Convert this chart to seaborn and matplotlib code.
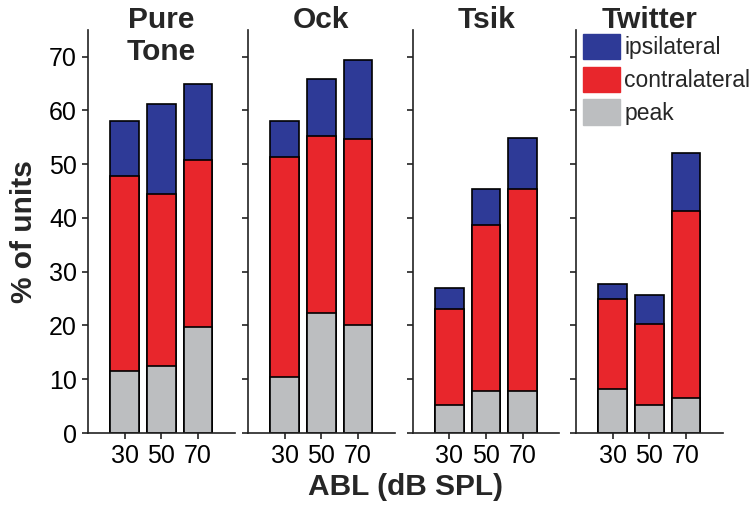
import pandas as pd
import matplotlib.pyplot as plt
import seaborn as sns
from matplotlib.patches import Patch

# === Data (cumulative tops of stacked segments, % of units) ===
panels = ["Pure\nTone", "Ock", "Tsik", "Twitter"]
abl = ["30", "50", "70"]
peak = [[11.5, 12.4, 19.7], [10.4, 22.3, 20.0], [5.3, 7.9, 7.9], [8.1, 5.3, 6.5]]
contra_top = [[47.8, 44.5, 50.7], [51.4, 55.3, 54.7], [23.0, 38.6, 45.4], [25.0, 20.2, 41.3]]
ipsi_top = [[58.0, 61.1, 64.9], [58.0, 65.8, 69.4], [27.0, 45.4, 54.8], [27.8, 25.7, 52.0]]

rows = []
for i, name in enumerate(panels):
    for j, a in enumerate(abl):
        rows.append({"panel": name, "ABL": a, "peak": peak[i][j],
                     "contra": contra_top[i][j], "ipsi": ipsi_top[i][j]})
df = pd.DataFrame(rows)

sns.set_style("white")
plt.rcParams["font.family"] = ["Liberation Sans", "DejaVu Sans"]

c_ipsi = "#2E3A97"
c_contra = "#E8262C"
c_peak = "#BCBEC0"

fig = plt.figure(figsize=(7.56, 5.08), dpi=100)
lefts = [0.1164, 0.328, 0.546, 0.762]
axes = []
for k, name in enumerate(panels):
    ax = fig.add_axes([lefts[k], 0.1476, 0.194, 0.794])
    sub = df[df["panel"] == name]
    # draw tallest first so the lower segments sit on top
    for col, c in [("ipsi", c_ipsi), ("contra", c_contra), ("peak", c_peak)]:
        sns.barplot(data=sub, x="ABL", y=col, color=c, edgecolor="black",
                    linewidth=1.2, width=0.78, saturation=1, ax=ax, order=abl)
    ax.set_xlim(-1, 3)
    ax.set_ylim(0, 75)
    ax.set_yticks(range(0, 71, 10))
    ax.set_xlabel("")
    ax.set_ylabel("")
    for s in ["top", "right"]:
        ax.spines[s].set_visible(False)
    for s in ["left", "bottom"]:
        ax.spines[s].set_linewidth(1.2)
        ax.spines[s].set_color("#222222")
    ax.tick_params(direction="out", length=4, width=1.2, labelsize=18,
                   left=True, bottom=True, colors="#222222", labelcolor="black", pad=4)
    if k > 0:
        ax.tick_params(labelleft=False)
    ax.text(0.5, 1.059, name, transform=ax.transAxes, ha="center", va="top",
            fontsize=21.5, fontweight="bold")
    axes.append(ax)

axes[0].set_ylabel("% of units", fontsize=21.5, fontweight="bold", labelpad=8)
fig.text(0.536, 0.042, "ABL (dB SPL)", ha="center", va="center",
         fontsize=21.5, fontweight="bold")

handles = [Patch(facecolor=c_ipsi, edgecolor=c_ipsi, label="ipsilateral"),
           Patch(facecolor=c_contra, edgecolor=c_contra, label="contralateral"),
           Patch(facecolor=c_peak, edgecolor=c_peak, label="peak")]
axes[3].legend(handles=handles, loc="upper left", bbox_to_anchor=(0.05, 0.99),
               frameon=False, fontsize=16.5, handlelength=1.58, handleheight=1.32,
               handletextpad=0.2, labelspacing=0.33, borderaxespad=0,
               borderpad=0)

plt.savefig("out.png", dpi=100)
plt.close()
